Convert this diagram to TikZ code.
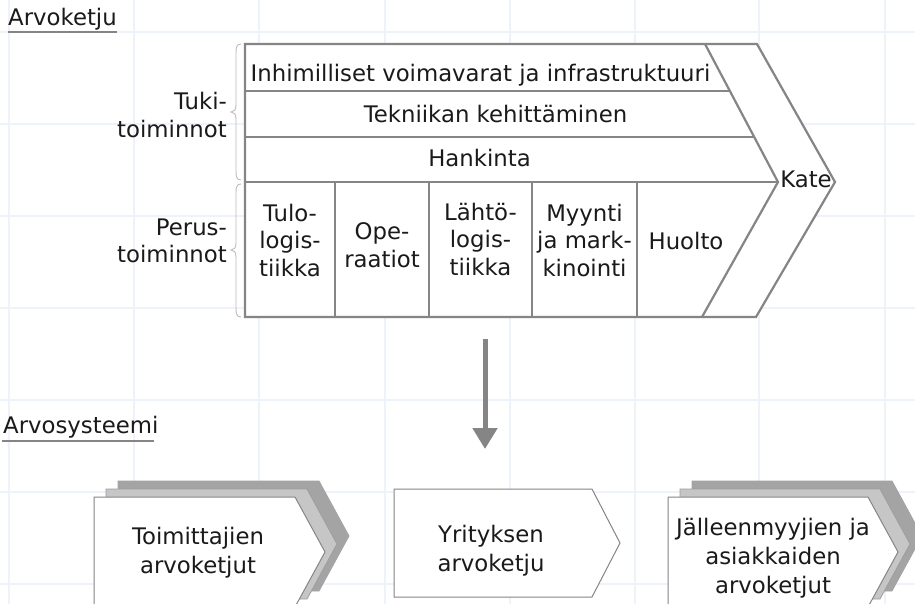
\documentclass[tikz,border=0pt]{standalone}
\usepackage{fontspec}
\setmainfont{DejaVu Sans}
\usetikzlibrary{arrows.meta}
\definecolor{gridc}{HTML}{EEF2F9}
\definecolor{edge}{HTML}{858585}
\definecolor{brc}{HTML}{BBBBBB}
\definecolor{ink}{HTML}{1A1A1A}
\definecolor{layerA}{HTML}{C6C6C6}
\definecolor{layerB}{HTML}{A4A4A4}
\begin{document}
\begin{tikzpicture}[x=1pt,y=-1pt,
  txt/.style={font=\fontsize{22.8}{27.5}\selectfont, text=ink, inner sep=0pt, align=center},
  loose/.style={font=\fontsize{22.8}{29}\selectfont},
  chain/.style={draw=edge, line width=2.2pt, line join=miter},
  brack/.style={draw=brc, line width=0.9pt},
  front/.style={draw=edge, line width=1pt, fill=white},
  shadeA/.style={draw=edge!80, line width=0.8pt, fill=layerA},
  shadeB/.style={draw=layerB, line width=0.8pt, fill=layerB},
  flow/.style={draw=edge, line width=5pt, -{Triangle[length=21pt,width=24pt]}},
  uline/.style={draw=edge, line width=1.2pt}]
\useasboundingbox (0,0) rectangle (915,604);
\clip (0,0) rectangle (915,604);
\fill[white] (0,0) rectangle (915,604);

% background grid
\foreach \gx in {9,134,259,385,510,635,759,885}
  \draw[gridc, line width=2pt] (\gx,0) -- (\gx,604);
\foreach \gy in {32,124,216,308,400,492,584}
  \draw[gridc, line width=2pt] (0,\gy) -- (915,\gy);

% section titles
\node[txt, anchor=base west] (t1) at (8,26) {Arvoketju};
\draw[uline] (8,32) -- (117,32);
\node[txt, anchor=base west] (t2) at (3,433) {Arvosysteemi};
\draw[uline] (2,441) -- (154,441);

% value chain outline
\draw[chain, fill=white] (245,44) -- (757,44) -- (835,182) -- (756,317) -- (245,317) -- cycle;
\draw[chain] (705,44) -- (778,182) -- (702,317);
\draw[chain] (245,91) -- (730,91);
\draw[chain] (245,137) -- (754,137);
\draw[chain] (245,182) -- (778,182);
\foreach \cx in {335,429,532,637}
  \draw[chain] (\cx,182) -- (\cx,317);

% support activities
\node[txt, anchor=base] (hr)   at (480.5,82) {Inhimilliset voimavarat ja infrastruktuuri};
\node[txt, anchor=base] (tech) at (495.5,123) {Tekniikan kehittäminen};
\node[txt, anchor=base] (proc) at (479.5,167) {Hankinta};
\node[txt, anchor=base] (kate) at (806,188) {Kate};

% primary activities
\node[txt] (inlog)  at (290,240)   {Tulo-\\logis-\\tiikka};
\node[txt] (ops)    at (382,245)   {Ope-\\raatiot};
\node[txt] (outlog) at (480.5,239) {Lähtö-\\logis-\\tiikka};
\node[txt] (sales)  at (584.5,240) {Myynti\\ja mark-\\kinointi};
\node[txt] (serv)   at (686,241)   {Huolto};

% group labels with braces
\node[txt, align=right, anchor=east] (tuki)  at (227,115) {Tuki-\\toiminnot};
\node[txt, align=right, anchor=east] (perus) at (227,241) {Perus-\\toiminnot};
\draw[brack] (241,44) .. controls (237,44) and (236,47) .. (236,52)
  -- (236,105) .. controls (236,110) and (234,112) .. (231,112)
  .. controls (234,112) and (236,114) .. (236,119)
  -- (236,172) .. controls (236,177) and (237,180) .. (241,180);
\draw[brack] (241,184) .. controls (237,184) and (236,187) .. (236,192)
  -- (236,243) .. controls (236,248) and (234,250) .. (231,250)
  .. controls (234,250) and (236,252) .. (236,257)
  -- (236,309) .. controls (236,314) and (237,317) .. (241,317);

% arrow down to the value system
\coordinate (vcfoot) at (485,339);
\coordinate (vsin) at (485,449);
\draw[flow] (vcfoot) -- (vsin);

% value system: suppliers
\draw[shadeB] (118,481) -- (319,481) -- (349,536) -- (319,591) -- (118,591) -- cycle;
\draw[shadeA] (106,489) -- (307,489) -- (337,544) -- (307,599) -- (106,599) -- cycle;
\draw[front]  (94,497) -- (295,497) -- (325,552) -- (295,607) -- (94,607) -- cycle;
\node[txt, loose] (supp) at (198,553) {Toimittajien\\arvoketjut};

% value system: firm
\draw[front] (394,489) -- (592,489) -- (620,543) -- (592,597) -- (394,597) -- cycle;
\node[txt, loose] (firm) at (491,551) {Yrityksen\\arvoketju};

% value system: channels and buyers
\draw[shadeB] (692,481) -- (892,481) -- (922,536) -- (892,591) -- (692,591) -- cycle;
\draw[shadeA] (680,489) -- (880,489) -- (910,544) -- (880,599) -- (680,599) -- cycle;
\draw[front]  (668,497) -- (868,497) -- (898,552) -- (868,607) -- (668,607) -- cycle;
\node[txt, loose] (buyer) at (773,558) {Jälleenmyyjien ja\\asiakkaiden\\arvoketjut};
\end{tikzpicture}
\end{document}
